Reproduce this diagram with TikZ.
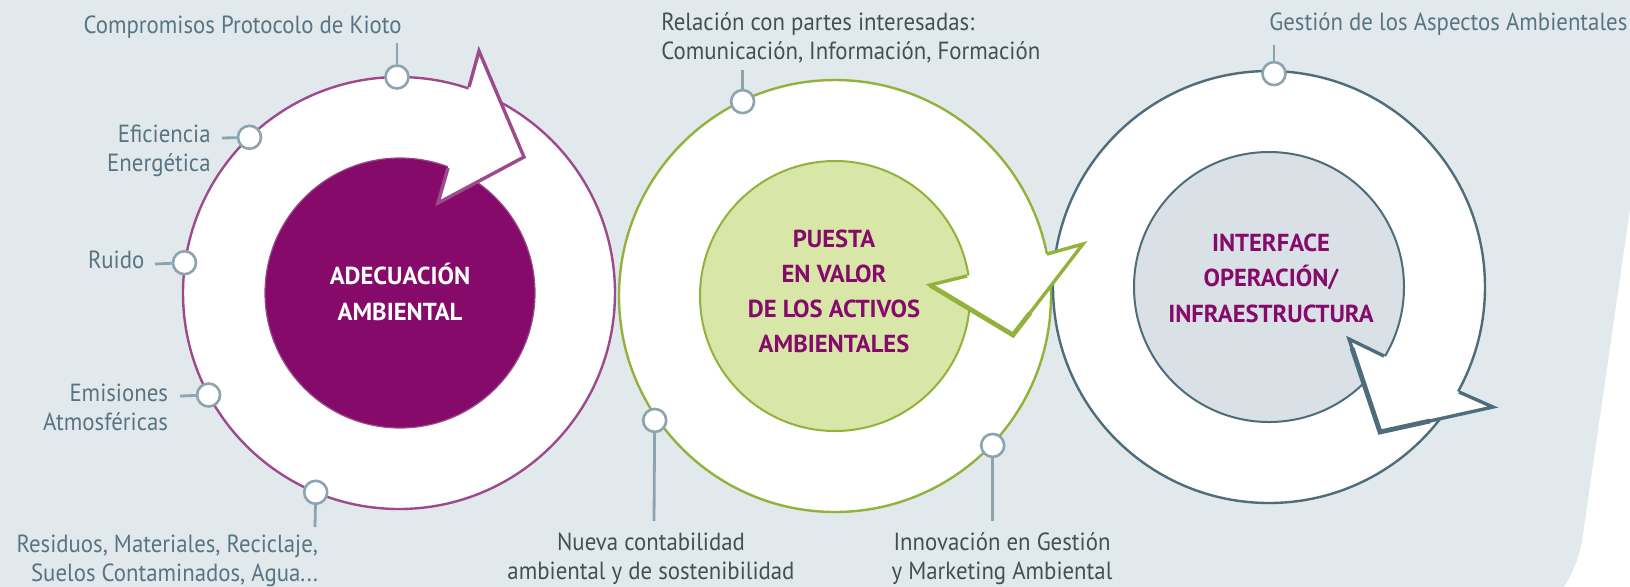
\documentclass[tikz,border=0pt]{standalone}
\usepackage{fontspec}
\setmainfont{PT Sans}
\newfontfamily\lblfont{PT Sans}[FakeStretch=0.92]
\definecolor{bg}{HTML}{E1E9ED}
\definecolor{pur}{HTML}{9C4A8B}
\definecolor{purfill}{HTML}{850A6A}
\definecolor{grn}{HTML}{93B23C}
\definecolor{grnfill}{HTML}{D8E6A8}
\definecolor{sla}{HTML}{4F6C7B}
\definecolor{slafill}{HTML}{D9E1E7}
\definecolor{dotc}{HTML}{8CA3B0}
\definecolor{lab}{HTML}{587483}
\definecolor{labdark}{HTML}{434F56}
\definecolor{ttl}{HTML}{850A6A}
\begin{document}
\begin{tikzpicture}[x=0.5pt,y=-0.5pt,
  ring/.style={circle,fill=white,line width=1.2pt,minimum size=216pt,inner sep=0pt},
  disc/.style={circle,line width=1pt,minimum size=135pt,inner sep=0pt},
  dotn/.style={circle,draw=dotc,fill=white,line width=1.3pt,minimum size=11.5pt,inner sep=0pt},
  tick/.style={draw=dotc,line width=1.4pt},
  lbl/.style={inner sep=0pt,text=lab,font=\lblfont\fontsize{12.4}{14.5}\selectfont},
  lbld/.style={lbl,text=labdark},
  ttlf/.style={inner sep=0pt,align=center,anchor=base},
  ahead/.style={line width=1.7pt,line join=miter,miter limit=10},
  aheadthick/.style={line width=2.4pt,line join=miter,miter limit=10}]
\useasboundingbox (0,0) rectangle (1630,586);
\fill[bg] (0,0) -- (1630,0) -- (1630,209) -- (1583,534) .. controls (1580,556) and (1573,575) .. (1560,592) -- (0,592) -- cycle;

% circles
\node[ring,draw=pur] (c1) at (399,293) {};
\node[disc,fill=purfill,draw=pur,line width=0.6pt] (d1) at (400,293) {};
\node[ring,draw=grn] (c2) at (835,296) {};
\node[disc,fill=grnfill,draw=grn] (d2) at (835,296) {};
\node[ring,draw=sla] (c3) at (1269,287) {};
\node[disc,fill=slafill,draw=sla] (d3) at (1269,287) {};

% arrowheads
\fill[white] (448,168) -- (438,203) -- (524,157) -- (479,51) -- (469,87) -- cycle;
\draw[ahead,pur] (448,168) -- (438,203) -- (524,157) -- (479,51) -- (469,87);
\fill[white] (967,276) -- (930,285) -- (1013,335) -- (1083,244) -- (1047,254) -- cycle;
\draw[ahead,grn] (967,276) -- (930,285) -- (1013,335) -- (1083,244) -- (1047,254);
\draw[aheadthick,grn] (930,285) -- (1013,335) -- (1030,313);
\fill[white] (1384,356) -- (1349,339) -- (1380,432) -- (1493,407) -- (1459,392) -- cycle;
\draw[ahead,sla] (1384,356) -- (1349,339) -- (1380,432) -- (1493,407) -- (1459,392);
\draw[aheadthick,sla] (1352,348) -- (1380,432) -- (1430,421);

% titles (anchor at baseline of last line)
\node[ttlf,text=white,font=\fontsize{12.3}{18}\selectfont\bfseries] (t1) at (400,320.7) {ADECUACIÓN\\AMBIENTAL};
\node[ttlf,text=ttl,font=\fontsize{12.3}{17.5}\selectfont\bfseries] (t2) at (834,352.4) {PUESTA\\EN VALOR\\DE LOS ACTIVOS\\AMBIENTALES};
\node[ttlf,text=ttl,font=\fontsize{12.3}{17.75}\selectfont\bfseries] (t3) at (1271,322.1) {INTERFACE\\OPERACIÓN/\\INFRAESTRUCTURA};

% tick ends
\coordinate (e1) at (397,43);
\coordinate (e2) at (222,138);
\coordinate (e3) at (155,264);
\coordinate (e4) at (180,396);
\coordinate (e5) at (315,527);
\coordinate (e6) at (742.5,70);
\coordinate (e7) at (654,521);
\coordinate (e8) at (992.7,521);
\coordinate (e9) at (1274,45);

% dots
\node[dotn] (p1) at (397,77) {};
\node[dotn] (p2) at (249.5,137.3) {};
\node[dotn] (p3) at (184.5,262.7) {};
\node[dotn] (p4) at (208.6,395) {};
\node[dotn] (p5) at (315.7,492.3) {};
\node[dotn] (p6) at (742.6,101.6) {};
\node[dotn] (p7) at (654.7,420.4) {};
\node[dotn] (p8) at (992.7,445.4) {};
\node[dotn] (p9) at (1274,73.6) {};
\foreach \i in {1,...,9} {\draw[tick] (p\i) -- (e\i);}

% labels (multi-line: anchor at baseline of last line)
\node[lbl,anchor=base east] (l1) at (402,33) {Compromisos Protocolo de Kioto};
\node[lbl,anchor=base east,align=right] (l2) at (211,171.7) {Eficiencia\\Energética};
\node[lbl,anchor=base east] (l3) at (144.7,268.3) {Ruido};
\node[lbl,anchor=base east,align=right] (l4) at (168.4,430.7) {Emisiones\\Atmosféricas};
\node[lbl,anchor=base east,align=right] (l5) at (318.4,581.7) {Residuos, Materiales, Reciclaje,\\Suelos Contaminados, Agua...};
\node[lbld,anchor=base west,align=left] (l6) at (661,59) {Relación con partes interesadas:\\Comunicación, Información, Formación};
\node[lbld,anchor=base,align=center] (l7) at (651,579.2) {Nueva contabilidad\\ambiental y de sostenibilidad};
\node[lbld,anchor=base,align=center] (l8) at (1002,579.2) {Innovación en Gestión\\y Marketing Ambiental};
\node[lbl,anchor=base west] (l9) at (1269,30) {Gestión de los Aspectos Ambientales};
\end{tikzpicture}
\end{document}
